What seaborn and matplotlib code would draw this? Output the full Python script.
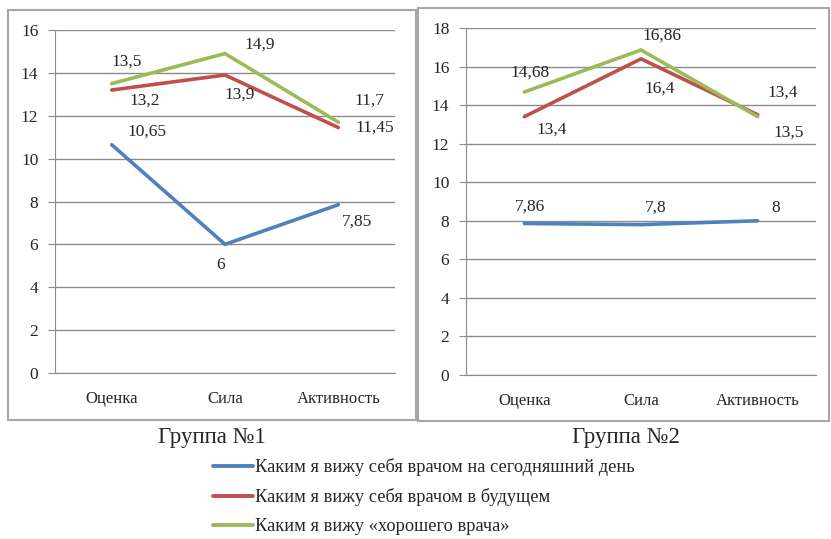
import pandas as pd
import seaborn as sns
import matplotlib.pyplot as plt
from matplotlib.patches import Rectangle

categories = ["Оценка", "Сила", "Активность"]
series_names = [
    "Каким я вижу себя врачом на сегодняшний день",
    "Каким я вижу себя врачом в будущем",
    "Каким я вижу «хорошего врача»",
]
group1_today = [10.65, 6, 7.85]
group1_future = [13.2, 13.9, 11.45]
group1_good = [13.5, 14.9, 11.7]
group2_today = [7.86, 7.8, 8]
group2_future = [13.4, 16.4, 13.5]
group2_good = [14.68, 16.86, 13.4]
group_titles = ["Группа №1", "Группа №2"]
y_max = [16, 18]

colors = ["#4F81BD", "#C0504D", "#9BBB59"]

# label offsets in pixels, one row per series (today, future, good)
offsets1 = [[(35, 13), (-4, -21), (19, -17)],
            [(33, -11), (15, -20), (36, 0)],
            [(15, 22), (35, 9), (31, 22)]]
offsets2 = [[(6, 17), (15, 17), (18, 13)],
            [(27, -13), (19, -30), (31, -18)],
            [(6, 19), (21, 14), (25, 24)]]


def make_df(today, future, good):
    rows = []
    for name, vals in zip(series_names, [today, future, good]):
        for c, v in zip(categories, vals):
            rows.append({"cat": c, "val": v, "series": name})
    return pd.DataFrame(rows)


def fmt(v):
    return f"{v:g}".replace(".", ",")


sns.set_style("white")
plt.rcParams["font.family"] = ["Liberation Serif", "DejaVu Serif"]

W, H = 831, 539
fig = plt.figure(figsize=(W / 100, H / 100), dpi=100)

# panel frames
for x0, y0, x1, y1 in [(8, 10, 416, 420), (418, 8, 829, 421)]:
    fig.patches.append(Rectangle((x0 / W, 1 - y1 / H), (x1 - x0) / W, (y1 - y0) / H,
                                 transform=fig.transFigure, fill=False,
                                 edgecolor="#A6A6A6", lw=1.5))

axes_px = [(55, 30, 395, 373), (466, 28, 816, 375)]
data = [make_df(group1_today, group1_future, group1_good),
        make_df(group2_today, group2_future, group2_good)]
vals = [[group1_today, group1_future, group1_good],
        [group2_today, group2_future, group2_good]]
offs = [offsets1, offsets2]

handles = None
for i in range(2):
    x0, y0, x1, y1 = axes_px[i]
    ax = fig.add_axes([x0 / W, 1 - y1 / H, (x1 - x0) / W, (y1 - y0) / H])
    sns.lineplot(data=data[i], x="cat", y="val", hue="series", palette=colors,
                 sort=False, lw=2.6, ax=ax, legend=True)
    if handles is None:
        handles, labels = ax.get_legend_handles_labels()
    ax.get_legend().remove()

    ax.set_xlim(-0.5, 2.5)
    ax.set_ylim(0, y_max[i])
    ax.set_yticks(range(0, y_max[i] + 1, 2))
    ax.yaxis.grid(True, color="#8C8C8C", lw=1)
    ax.set_axisbelow(True)
    ax.set_xlabel("")
    ax.set_ylabel("")
    for s in ["top", "right"]:
        ax.spines[s].set_visible(False)
    for s in ["left", "bottom"]:
        ax.spines[s].set_color("#8C8C8C")
    ax.set_xticks([0, 1, 2])
    ax.set_xticklabels(categories, fontsize=12)
    ax.tick_params(axis="x", length=0, pad=13)
    ax.set_xticks([-0.5, 0.5, 1.5, 2.5], minor=True)
    ax.tick_params(axis="x", which="minor", length=5, color="#8C8C8C", direction="out")
    ax.tick_params(axis="y", length=5, color="#8C8C8C", direction="out",
                   labelsize=12.5, pad=7, left=True)

    for s_idx in range(3):
        for c_idx in range(3):
            v = vals[i][s_idx][c_idx]
            dx, dy = offs[i][s_idx][c_idx]
            ax.annotate(fmt(v), (c_idx, v), xytext=(dx * 0.72, dy * 0.72),
                        textcoords="offset points", ha="center", va="center",
                        fontsize=12.5)

    fig.text(((8 + 416) / 2 if i == 0 else (418 + 829) / 2 + 2) / W,
             1 - 438 / H, group_titles[i], ha="center", va="center", fontsize=16.5)

leg = fig.legend(handles, labels, loc="upper left",
                 bbox_to_anchor=(213 / W, 1 - 458 / H), frameon=False,
                 fontsize=13.2, handlelength=2.18, handletextpad=0.1,
                 labelspacing=0.66, borderpad=0, borderaxespad=0)
for line in leg.get_lines():
    line.set_linewidth(2.8)

fig.savefig("out.png", dpi=100)
